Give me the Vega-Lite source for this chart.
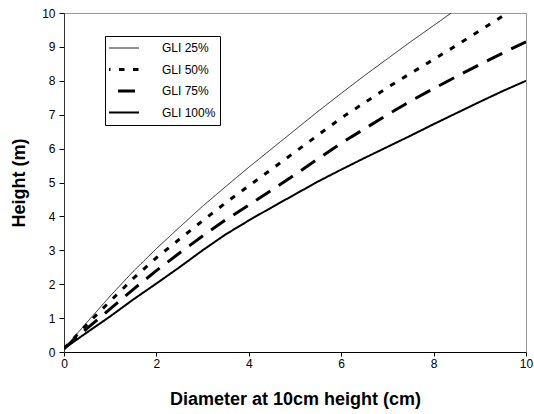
{
  "$schema": "https://vega.github.io/schema/vega-lite/v6.json",
  "width": 462,
  "height": 339,
  "autosize": {"type": "none"},
  "padding": {"left": 64, "top": 13, "right": 8, "bottom": 62},
  "background": "#ffffff",
  "config": {
    "font": "Liberation Sans",
    "view": {"stroke": "#999999", "strokeWidth": 1},
    "axis": {"grid": false, "labelColor": "#000000", "titleColor": "#000000", "tickColor": "#000000", "domainColor": "#000000", "labelFontSize": 12, "titleFontSize": 18, "titleFontWeight": "bold", "labelFlush": false}
  },
  "data": {
    "values": [
      {"series": "GLI 25%", "d": 0, "h": 0.1},
      {"series": "GLI 25%", "d": 0.5, "h": 0.88},
      {"series": "GLI 25%", "d": 1, "h": 1.65},
      {"series": "GLI 25%", "d": 1.5, "h": 2.38},
      {"series": "GLI 25%", "d": 2, "h": 3.05},
      {"series": "GLI 25%", "d": 2.5, "h": 3.68},
      {"series": "GLI 25%", "d": 3, "h": 4.3},
      {"series": "GLI 25%", "d": 3.5, "h": 4.88},
      {"series": "GLI 25%", "d": 4, "h": 5.45},
      {"series": "GLI 25%", "d": 4.5, "h": 6.0},
      {"series": "GLI 25%", "d": 5, "h": 6.55},
      {"series": "GLI 25%", "d": 5.5, "h": 7.1},
      {"series": "GLI 25%", "d": 6, "h": 7.63},
      {"series": "GLI 25%", "d": 6.5, "h": 8.15},
      {"series": "GLI 25%", "d": 7, "h": 8.65},
      {"series": "GLI 25%", "d": 7.5, "h": 9.15},
      {"series": "GLI 25%", "d": 8, "h": 9.63},
      {"series": "GLI 25%", "d": 8.38, "h": 10.0},
      {"series": "GLI 50%", "d": 0, "h": 0.1},
      {"series": "GLI 50%", "d": 0.5, "h": 0.82},
      {"series": "GLI 50%", "d": 1, "h": 1.5},
      {"series": "GLI 50%", "d": 1.5, "h": 2.17},
      {"series": "GLI 50%", "d": 2, "h": 2.78},
      {"series": "GLI 50%", "d": 2.5, "h": 3.33},
      {"series": "GLI 50%", "d": 3, "h": 3.87},
      {"series": "GLI 50%", "d": 3.5, "h": 4.4},
      {"series": "GLI 50%", "d": 4, "h": 4.9},
      {"series": "GLI 50%", "d": 4.5, "h": 5.4},
      {"series": "GLI 50%", "d": 5, "h": 5.9},
      {"series": "GLI 50%", "d": 5.5, "h": 6.4},
      {"series": "GLI 50%", "d": 6, "h": 6.9},
      {"series": "GLI 50%", "d": 6.5, "h": 7.35},
      {"series": "GLI 50%", "d": 7, "h": 7.8},
      {"series": "GLI 50%", "d": 7.5, "h": 8.22},
      {"series": "GLI 50%", "d": 8, "h": 8.63},
      {"series": "GLI 50%", "d": 8.5, "h": 9.05},
      {"series": "GLI 50%", "d": 9, "h": 9.48},
      {"series": "GLI 50%", "d": 9.6, "h": 10.0},
      {"series": "GLI 75%", "d": 0, "h": 0.1},
      {"series": "GLI 75%", "d": 0.5, "h": 0.7},
      {"series": "GLI 75%", "d": 1, "h": 1.27},
      {"series": "GLI 75%", "d": 1.5, "h": 1.85},
      {"series": "GLI 75%", "d": 2, "h": 2.4},
      {"series": "GLI 75%", "d": 2.5, "h": 2.92},
      {"series": "GLI 75%", "d": 3, "h": 3.42},
      {"series": "GLI 75%", "d": 3.5, "h": 3.9},
      {"series": "GLI 75%", "d": 4, "h": 4.33},
      {"series": "GLI 75%", "d": 4.5, "h": 4.78},
      {"series": "GLI 75%", "d": 5, "h": 5.23},
      {"series": "GLI 75%", "d": 5.5, "h": 5.7},
      {"series": "GLI 75%", "d": 6, "h": 6.16},
      {"series": "GLI 75%", "d": 6.5, "h": 6.58},
      {"series": "GLI 75%", "d": 7, "h": 7.0},
      {"series": "GLI 75%", "d": 7.5, "h": 7.4},
      {"series": "GLI 75%", "d": 8, "h": 7.77},
      {"series": "GLI 75%", "d": 8.5, "h": 8.13},
      {"series": "GLI 75%", "d": 9, "h": 8.48},
      {"series": "GLI 75%", "d": 9.5, "h": 8.82},
      {"series": "GLI 75%", "d": 10, "h": 9.15},
      {"series": "GLI 100%", "d": 0, "h": 0.1},
      {"series": "GLI 100%", "d": 0.5, "h": 0.58},
      {"series": "GLI 100%", "d": 1, "h": 1.05},
      {"series": "GLI 100%", "d": 1.5, "h": 1.55},
      {"series": "GLI 100%", "d": 2, "h": 2.02},
      {"series": "GLI 100%", "d": 2.5, "h": 2.5},
      {"series": "GLI 100%", "d": 3, "h": 3.0},
      {"series": "GLI 100%", "d": 3.5, "h": 3.47},
      {"series": "GLI 100%", "d": 4, "h": 3.88},
      {"series": "GLI 100%", "d": 4.5, "h": 4.27},
      {"series": "GLI 100%", "d": 5, "h": 4.65},
      {"series": "GLI 100%", "d": 5.5, "h": 5.03},
      {"series": "GLI 100%", "d": 6, "h": 5.38},
      {"series": "GLI 100%", "d": 6.5, "h": 5.72},
      {"series": "GLI 100%", "d": 7, "h": 6.05},
      {"series": "GLI 100%", "d": 7.5, "h": 6.38},
      {"series": "GLI 100%", "d": 8, "h": 6.72},
      {"series": "GLI 100%", "d": 8.5, "h": 7.05},
      {"series": "GLI 100%", "d": 9, "h": 7.38},
      {"series": "GLI 100%", "d": 9.5, "h": 7.7},
      {"series": "GLI 100%", "d": 10, "h": 8.0}
    ]
  },
  "encoding": {
    "x": {
      "field": "d", "type": "quantitative",
      "scale": {"domain": [0, 10], "nice": false, "zero": false},
      "axis": {"title": "Diameter at 10cm height (cm)", "values": [0, 2, 4, 6, 8, 10], "tickSize": 4, "labelPadding": 2, "titlePadding": 21}
    },
    "y": {
      "field": "h", "type": "quantitative",
      "scale": {"domain": [0, 10], "nice": false},
      "axis": {"title": "Height (m)", "values": [0, 1, 2, 3, 4, 5, 6, 7, 8, 9, 10], "tickSize": 5, "labelPadding": 4, "titlePadding": 13, "domainColor": "#333333"}
    },
    "color": {
      "field": "series", "type": "nominal",
      "scale": {"domain": ["GLI 25%", "GLI 50%", "GLI 75%", "GLI 100%"], "range": ["#222222", "#000000", "#000000", "#000000"]},
      "legend": {"title": null, "orient": "none", "legendX": 41, "legendY": 23, "symbolType": "stroke", "symbolSize": 2304, "symbolStrokeWidth": 3, "clipHeight": 16, "rowPadding": 5.5, "labelFontSize": 12, "labelColor": "#000000", "labelOffset": 41, "padding": 4, "strokeColor": "#000000", "fillColor": "#ffffff", "cornerRadius": 0,
        "encode": {"symbols": {"update": {"strokeWidth": {"signal": "datum.value === 'GLI 25%' ? 1 : (datum.value === 'GLI 100%' ? 2 : 3)"}}}}}
    },
    "strokeDash": {
      "field": "series", "type": "nominal",
      "scale": {"domain": ["GLI 25%", "GLI 50%", "GLI 75%", "GLI 100%"], "range": [[1, 0], [5.5, 8.5], [17, 10], [1, 0]]},
      "legend": {"title": null, "orient": "none", "legendX": 41, "legendY": 23, "symbolType": "stroke", "symbolSize": 2304, "symbolStrokeWidth": 3, "clipHeight": 16, "rowPadding": 5.5, "labelFontSize": 12, "labelColor": "#000000", "labelOffset": 41, "padding": 4, "strokeColor": "#000000", "fillColor": "#ffffff", "cornerRadius": 0,
        "encode": {"symbols": {"update": {"strokeWidth": {"signal": "datum.value === 'GLI 25%' ? 1 : (datum.value === 'GLI 100%' ? 2 : 3)"}}}}}
    }
  },
  "layer": [
    {"transform": [{"filter": "datum.series === 'GLI 25%'"}], "mark": {"type": "line", "clip": true, "strokeWidth": 1}},
    {"transform": [{"filter": {"field": "series", "oneOf": ["GLI 50%", "GLI 75%"]}}], "mark": {"type": "line", "clip": true, "strokeWidth": 3}},
    {"transform": [{"filter": "datum.series === 'GLI 100%'"}], "mark": {"type": "line", "clip": true, "strokeWidth": 2}}
  ]
}
